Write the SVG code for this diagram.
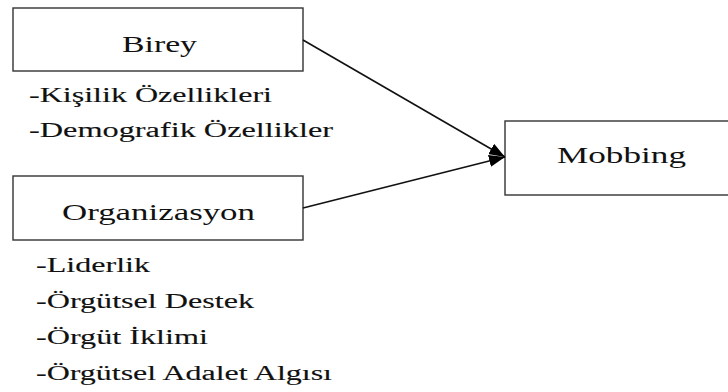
<svg xmlns="http://www.w3.org/2000/svg" width="728" height="392" viewBox="0 0 728 392">
<defs>
<style>
.box{fill:#fff;stroke:#333;stroke-width:1.4}
.t{fill:#111}
.h{font-size:23px}
.l{font-size:20px;stroke:#111;stroke-width:0.12}
.c{stroke:#111;stroke-width:1.6;fill:none}
</style>
<marker id="ah" viewBox="0 0 16 12" refX="16" refY="6" markerWidth="16" markerHeight="12" markerUnits="userSpaceOnUse" orient="auto">
<path d="M0,0 L16,6 L0,12 z" fill="#000"/>
</marker>
</defs>
<rect width="728" height="392" fill="#fff"/>
<g font-family="Liberation Serif, Times New Roman, DejaVu Serif, serif">
<g id="birey">
<rect class="box" x="13" y="8" width="290" height="63"/>
<text class="t h" x="122" y="52" textLength="75" lengthAdjust="spacingAndGlyphs">Birey</text>
</g>
<g id="birey-items">
<text class="t l" x="29" y="102" textLength="243" lengthAdjust="spacingAndGlyphs">-Kişilik Özellikleri</text>
<text class="t l" x="29" y="137" textLength="304" lengthAdjust="spacingAndGlyphs">-Demografik Özellikler</text>
</g>
<g id="organizasyon">
<rect class="box" x="13" y="176" width="290" height="64"/>
<text class="t h" x="62" y="220" textLength="193" lengthAdjust="spacingAndGlyphs">Organizasyon</text>
</g>
<g id="organizasyon-items">
<text class="t l" x="36" y="272" textLength="114" lengthAdjust="spacingAndGlyphs">-Liderlik</text>
<text class="t l" x="36" y="308" textLength="218" lengthAdjust="spacingAndGlyphs">-Örgütsel Destek</text>
<text class="t l" x="36" y="344" textLength="172" lengthAdjust="spacingAndGlyphs">-Örgüt İklimi</text>
<text class="t l" x="36" y="380" textLength="296" lengthAdjust="spacingAndGlyphs">-Örgütsel Adalet Algısı</text>
</g>
<g id="mobbing">
<rect class="box" x="505" y="121" width="240" height="74"/>
<text class="t h" x="557" y="163" textLength="129" lengthAdjust="spacingAndGlyphs">Mobbing</text>
</g>
</g>
<g id="connectors">
<path class="c" d="M303,40 L505,157" marker-end="url(#ah)"/>
<path class="c" d="M303,208 L505,157" marker-end="url(#ah)"/>
</g>
</svg>
